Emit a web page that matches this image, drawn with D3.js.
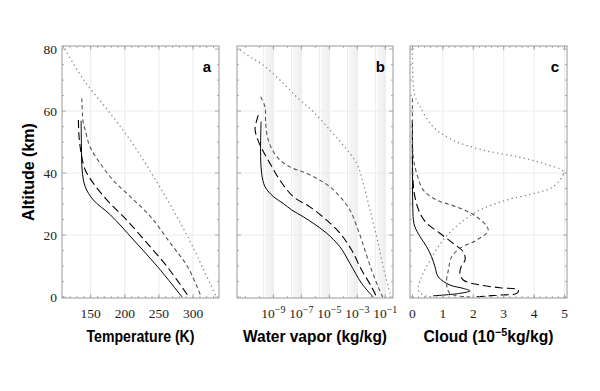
<!DOCTYPE html>
<html><head><meta charset="utf-8">
<script src="https://cdn.jsdelivr.net/npm/d3@7"></script>
<style>body{margin:0;background:#fff}svg{display:block}
.tl{font-family:"Liberation Serif","Times New Roman","DejaVu Serif",serif;font-size:13.5px;fill:#222}
.ttl{font-family:"Liberation Sans",Arial,Helvetica,sans-serif;font-weight:bold;font-size:16px;fill:#000}
</style>
</head><body><svg id="c" width="600" height="391"></svg>
<script>
// ---------- data ----------
// Panel a: temperature (K) vs altitude (km)
const tempSolid = [[136,56.9],[136.5,48.5],[137.5,41],[142,35.6],[154,31.3],[179,26.5],[213,18.4],[248,9.8],[284,0]];
const tempLong  = [[132,57.1],[133,51.7],[137,45.2],[142,41],[154,36.7],[174,31.3],[203,24.8],[233,17.3],[262,9.8],[294,0]];
const tempShort = [[137,64.1],[139,56.4],[142,53.9],[149,48.5],[164,43.1],[183,37.7],[208,32.4],[238,25.9],[267,17.3],[292,9.8],[312,0]];
const tempDot   = [[112,80],[140,70],[176,60],[210,50],[239,40],[266,30],[291,20],[313,10],[334,0]];
// Panel b: log10 water vapor (kg/kg) vs altitude
const vapSolid = [[-9.88,56.6],[-9.91,50.6],[-9.91,45.3],[-9.84,39.9],[-9.6,35.6],[-9.0,32.4],[-8.29,30.2],[-7.69,28.1],[-6.86,25.9],[-6.15,23.8],[-5.19,20.6],[-4.24,16.2],[-3.53,10.9],[-2.69,4.4],[-1.86,0]];
const vapLong  = [[-10.08,58.7],[-10.31,54.4],[-10.19,51.7],[-9.84,48],[-9.24,43.1],[-8.53,37.7],[-7.58,32.4],[-6.39,29.1],[-5.19,24.8],[-4.24,20.6],[-3.41,15.2],[-2.69,8.7],[-1.98,3.3],[-1.62,0]];
const vapShort = [[-9.91,64.6],[-9.6,61.4],[-9.55,56],[-9.36,50.6],[-8.76,45.3],[-7.81,42],[-6.62,39.9],[-5.67,37.7],[-4.96,35.6],[-4.24,32.4],[-3.53,28.1],[-2.94,21.6],[-2.46,15.2],[-1.98,8.7],[-1.51,3.3],[-1.19,0]];
const vapDot   = [[-11.39,79.7],[-10.67,77.5],[-9.72,74.8],[-8.53,70],[-7.34,64.6],[-6.15,59.8],[-4.96,53.9],[-4.01,49],[-3.05,43.1],[-2.58,36.7],[-2.1,28.1],[-1.62,19.5],[-1.15,9.8],[-0.6,0]];
// Panel c: cloud (1e-5 kg/kg) vs altitude
const cldSolid = [[0,56.9],[0,40],[0.01,30],[0.03,25],[0.08,22.7],[0.25,19.5],[0.47,16.2],[0.63,13],[0.74,9.8],[0.85,6.5],[1.23,3.9],[1.67,2.8],[1.89,2.0],[1.56,1.2],[0.68,0.4]];
const cldLong  = [[0,57.1],[0,45],[0.01,39],[0.08,32.4],[0.25,27],[0.47,23.8],[0.9,20.6],[1.34,17.3],[1.67,14.6],[1.73,11.9],[1.62,10.3],[1.56,7.6],[1.67,5.5],[2.22,3.9],[2.88,3],[3.48,2.3],[3.43,1.2],[2.77,0.6],[2.0,0]];
const cldShort = [[0,64.1],[0,55],[0.03,45],[0.14,39.9],[0.36,34.5],[0.8,31.3],[1.45,29.1],[2.11,25.9],[2.49,21.6],[2.11,18.4],[1.56,15.7],[1.29,13],[1.18,8.7],[1.12,4.4],[1.23,1.2],[1.9,0]];
const cldDot   = [[0,80],[0.02,70],[0.08,65],[0.25,61.4],[0.68,54.9],[1.34,50.6],[2.33,47.4],[3.43,45.3],[4.3,43.1],[4.96,40.4],[4.63,35.6],[3.97,33.4],[3.1,31.3],[2.22,28.1],[1.56,23.8],[1.01,18.4],[0.58,11.9],[0.3,6.5],[0.19,2.3],[0.36,0.6],[0.68,0]];

const altTicks  = [0,20,40,60,80];
const tempTicks = [150,200,250,300];
const vapTicks  = [-9,-7,-5,-3,-1];
const cldTicks  = [0,1,2,3,4,5];
const panelLetters = ["a","b","c"];
const xTitles = ["Temperature (K)","Water vapor (kg/kg)","Cloud (10|−5|kg/kg)"];

// ---------- layout ----------
const svg = d3.select("#c");
const yTop = 46, yBot = 298;
const y = d3.scaleLinear().domain([-0.3,81]).range([yBot, yTop]);
const titleWidths = [108, 144, 130];

const panels = [
  {x0:62, x1:219, scale:d3.scaleLinear().domain([108,338]), ticks:tempTicks, minor:d3.range(110,340,10), fmt:d=>String(d),
   series:[tempSolid,tempLong,tempShort,tempDot], grid:tempTicks},
  {x0:237, x1:393, scale:d3.scaleLinear().domain([-11.6,-0.45]), ticks:vapTicks, minor:d3.range(-11,0,1), log:true,
   series:[vapSolid,vapLong,vapShort,vapDot], grid:vapTicks},
  {x0:410, x1:567, scale:d3.scaleLinear().domain([-0.08,5.08]), ticks:cldTicks, minor:d3.range(0,5.01,0.2), fmt:d=>String(d),
   series:[cldSolid,cldLong,cldShort,cldDot], grid:[1,2,3,4,5]}
];
const styles = [
  {stroke:"#000", dash:null, w:1},
  {stroke:"#000", dash:"8,4", w:1.1},
  {stroke:"#555", dash:"4,3", w:1.1},
  {stroke:"#888", dash:"1.3,3.2", w:1.3}
];
const frameCol = "#999";

panels.forEach((p,i)=>{
  const x = p.scale.range([p.x0,p.x1]);
  const g = svg.append("g");
  const gg = g.append("g").attr("stroke","#ececec").attr("stroke-width",1);
  if(p.log){
    p.ticks.forEach(k=>{
      for(let j=2;j<=9;j++){
        const v = k-1+Math.log10(j);
        gg.append("line").attr("x1",x(v)).attr("x2",x(v)).attr("y1",yTop).attr("y2",yBot).attr("stroke","#eeeeee");
      }
    });
  }
  p.grid.forEach(v=>gg.append("line").attr("x1",x(v)).attr("x2",x(v)).attr("y1",yTop).attr("y2",yBot));
  [20,40,60].forEach(v=>gg.append("line").attr("x1",p.x0).attr("x2",p.x1).attr("y1",y(v)).attr("y2",y(v)));

  const line = d3.line().x(d=>x(d[0])).y(d=>y(d[1])).curve(d3.curveCatmullRom.alpha(0.5));
  p.series.forEach((s,k)=>{
    const st = styles[k];
    g.append("path").attr("d",line(s)).attr("fill","none").attr("stroke",st.stroke)
      .attr("stroke-width",st.w).attr("stroke-dasharray",st.dash);
  });

  g.append("rect").attr("x",p.x0).attr("y",yTop).attr("width",p.x1-p.x0).attr("height",yBot-yTop)
    .attr("fill","none").attr("stroke",frameCol).attr("stroke-width",1);
  const tk = g.append("g").attr("stroke",frameCol).attr("stroke-width",0.8);
  const dom = p.scale.domain();
  p.minor.forEach(v=>{ if(v<dom[0]||v>dom[1])return;
    tk.append("line").attr("x1",x(v)).attr("x2",x(v)).attr("y1",yBot).attr("y2",yBot-2);
    tk.append("line").attr("x1",x(v)).attr("x2",x(v)).attr("y1",yTop).attr("y2",yTop+2);});
  p.ticks.forEach(v=>{
    tk.append("line").attr("x1",x(v)).attr("x2",x(v)).attr("y1",yBot).attr("y2",yBot-4);
    tk.append("line").attr("x1",x(v)).attr("x2",x(v)).attr("y1",yTop).attr("y2",yTop+4);});
  d3.range(0,81,5).forEach(v=>{
    const L = v%20===0?4:2;
    tk.append("line").attr("x1",p.x0).attr("x2",p.x0+L).attr("y1",y(v)).attr("y2",y(v));
    tk.append("line").attr("x1",p.x1).attr("x2",p.x1-L).attr("y1",y(v)).attr("y2",y(v));
  });

  p.ticks.forEach(v=>{
    const t = g.append("text").attr("class","tl").attr("x",x(v)).attr("y",318).attr("text-anchor","middle");
    if(p.log){
      t.append("tspan").text("10");
      t.append("tspan").attr("dy",-5).style("font-size","10px").text("−"+Math.abs(v));
    } else t.text(p.fmt(v));
  });

  g.append("text").attr("class","ttl").attr("x",p.x1-8).attr("y",72).attr("text-anchor","end")
    .style("font-size","15px").text(panelLetters[i]);

  const parts = xTitles[i].split("|");
  const tt = g.append("text").attr("class","ttl").attr("x",(p.x0+p.x1)/2 - titleWidths[i]/2).attr("y",342)
    .attr("textLength",titleWidths[i]).attr("lengthAdjust","spacingAndGlyphs");
  tt.append("tspan").text(parts[0]);
  if(parts.length>1){
    tt.append("tspan").attr("dy",-6).style("font-size","11px").text(parts[1]);
    tt.append("tspan").attr("dy",6).text(parts[2]);
  }
});

altTicks.forEach(v=>{
  svg.append("text").attr("class","tl").attr("x",57).attr("y",y(v)+4.5).attr("text-anchor","end").text(v);
});
svg.append("text").attr("class","ttl").attr("transform","translate(34,"+((yTop+yBot)/2)+") rotate(-90)")
  .attr("text-anchor","middle").text("Altitude (km)");
</script></body></html>
